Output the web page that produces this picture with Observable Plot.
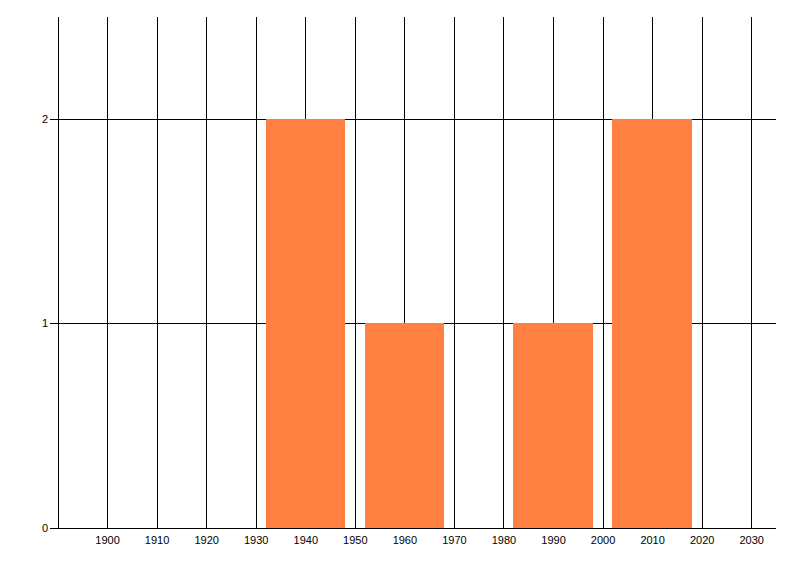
<!DOCTYPE html>
<html>
<head>
<meta charset="utf-8">
<script src="https://cdn.jsdelivr.net/npm/d3@7"></script>
<script src="https://cdn.jsdelivr.net/npm/@observablehq/plot@0.6"></script>
<style>
  html, body { margin: 0; padding: 0; background: #fff; }
  #chart svg { display: block; }
  #chart svg line, #chart svg path, #chart svg rect { shape-rendering: crispEdges; }
</style>
</head>
<body>
<div id="chart"></div>
<script>
// Data
const binCenters = [1940, 1960, 1990, 2010];
const counts = [2, 1, 1, 2];
const binWidth = 16;
const xTicks = [1900, 1910, 1920, 1930, 1940, 1950, 1960, 1970, 1980, 1990, 2000, 2010, 2020, 2030];
const yTicks = [0, 1, 2];

const bars = binCenters.map((c, i) => ({x1: c - binWidth / 2, x2: c + binWidth / 2, y: counts[i]}));

const chart = Plot.plot({
  width: 800,
  height: 576,
  marginLeft: 57.5,
  marginRight: 24,
  marginTop: 17,
  marginBottom: 48.5,
  style: {fontFamily: "'Liberation Sans', Arial, sans-serif", fontSize: "11px", color: "#000", background: "#fff"},
  x: {domain: [1890, 2035]},
  y: {domain: [0, 2.5]},
  marks: [
    Plot.ruleX(xTicks, {stroke: "#000", strokeWidth: 1}),
    Plot.ruleY(yTicks, {stroke: "#000", strokeWidth: 1}),
    Plot.ruleX([1890], {stroke: "#000", strokeWidth: 1}),
    Plot.rectY(bars, {x1: "x1", x2: "x2", y: "y", fill: "#FF8040"}),
    Plot.axisX({ticks: xTicks, tickSize: 0, tickPadding: 8, tickFormat: d => String(d), label: null, stroke: "#000"}),
    Plot.axisY({ticks: yTicks, tickSize: 8, tickPadding: 2, tickFormat: d => String(d), label: null, stroke: "#000"})
  ]
});
document.getElementById("chart").appendChild(chart);
</script>
</body>
</html>
